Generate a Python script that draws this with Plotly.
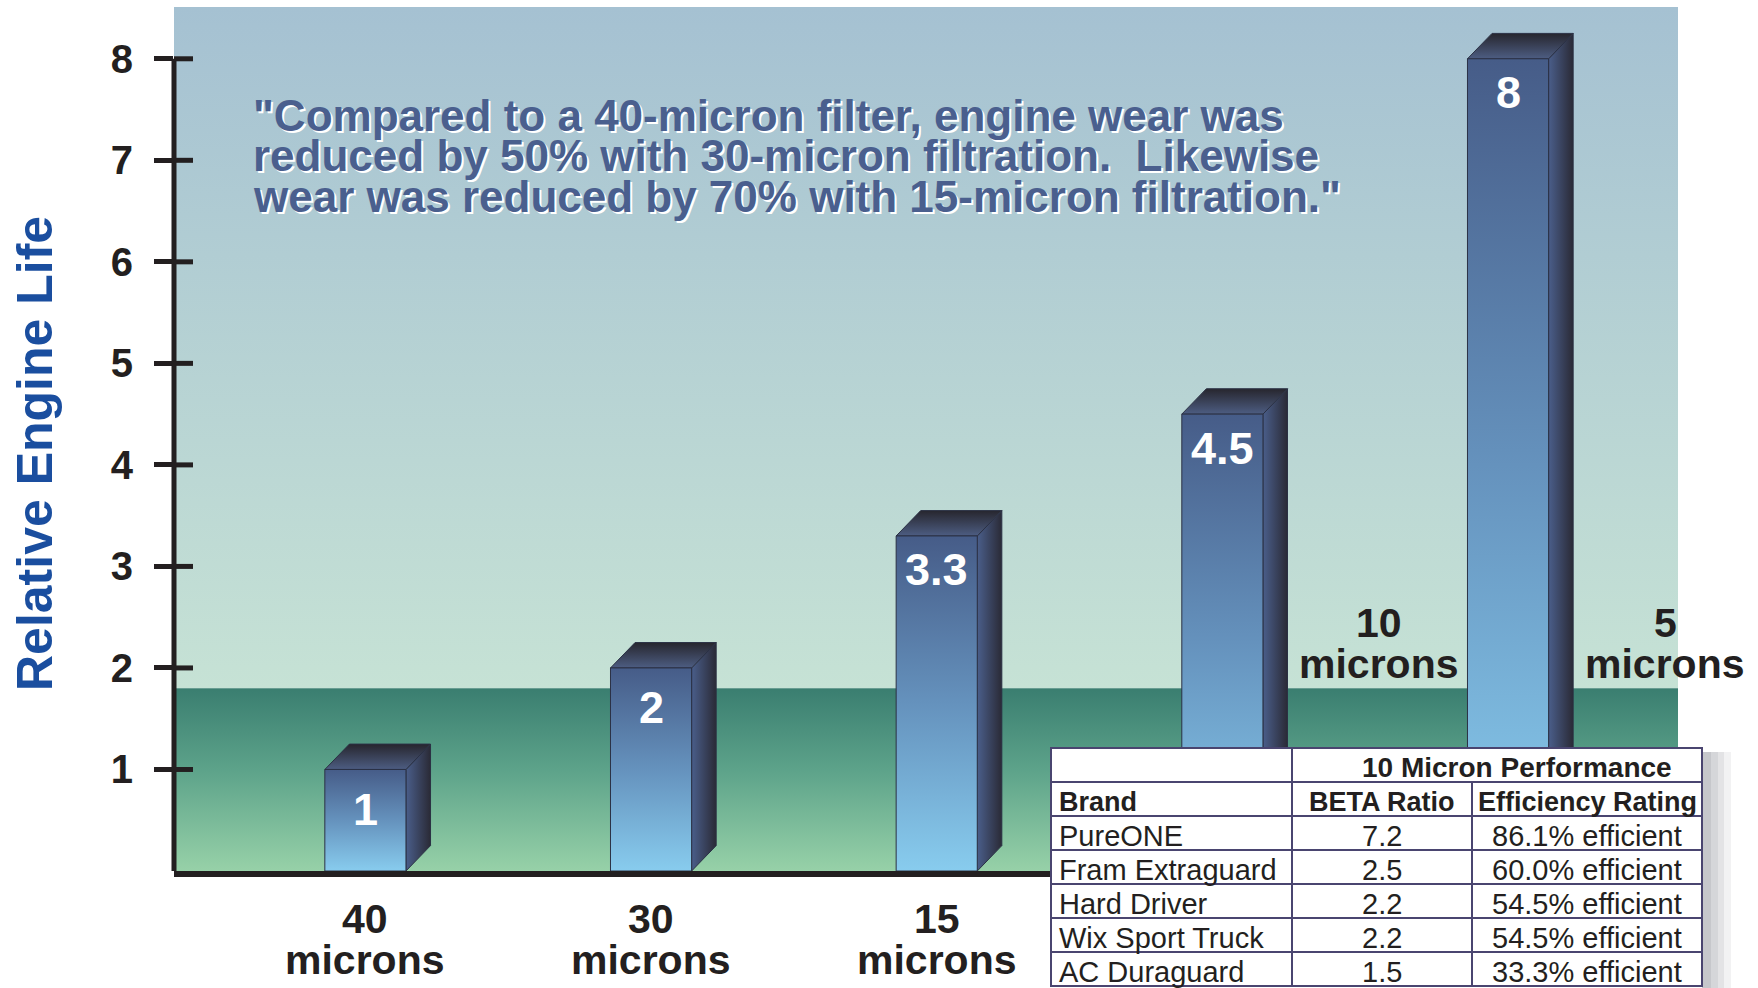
import plotly.graph_objects as go

# ---------------- data ----------------
categories = ["40", "30", "15", "10", "5"]
unit_label = "microns"
engine_life = [1, 2, 3.3, 4.5, 8]
value_labels = ["1", "2", "3.3", "4.5", "8"]
y_ticks = [1, 2, 3, 4, 5, 6, 7, 8]
y_title = "Relative Engine Life"

quote_lines = [
    '"Compared to a 40-micron filter, engine wear was',
    'reduced by 50% with 30-micron filtration. \u00a0Likewise',
    'wear was reduced by 70% with 15-micron filtration."',
]

table_title = "10 Micron Performance"
table_columns = ["Brand", "BETA Ratio", "Efficiency Rating"]
brands = ["PureONE", "Fram Extraguard", "Hard Driver", "Wix Sport Truck", "AC Duraguard"]
beta_ratios = ["7.2", "2.5", "2.2", "2.2", "1.5"]
efficiency = ["86.1% efficient", "60.0% efficient", "54.5% efficient",
              "54.5% efficient", "33.3% efficient"]

# ---------------- layout / style constants ----------------
W, H = 1758, 988
PL, PR, PT, PB = 174, 1678, 7, 871          # plot area in px
X_RANGE = [-0.670, 4.595]
Y_RANGE = [0, 8.51]
BAND_TOP = 1.8
HALF_W = 0.142
DEPTH_X = 0.086
DEPTH_Y = 0.25
FONT = "Liberation Sans, Arial, sans-serif"
INK = "#231f20"
EDGE = "#2b3145"

front_cs = [[0, "#88ccee"], [0.5, "#6592bd"], [1, "#465c88"]]
side_cs = [[0, "#4a5e8a"], [1, "#2a2a36"]]
top_cs = [[0, "#4d5d82"], [1, "#27262e"]]
sky_cs = [[0, "#c6e2d5"], [1, "#a5c1d2"]]
band_cs = [[0, "#97d1a8"], [0.55, "#5da38a"], [1, "#3a7e70"]]


def px_x(p):
    return p / W


def px_y(p):
    return 1 - p / H


fig = go.Figure()

# background gradients
xr0, xr1 = X_RANGE
fig.add_trace(go.Scatter(
    x=[xr0, xr1, xr1, xr0, xr0], y=[BAND_TOP, BAND_TOP, Y_RANGE[1], Y_RANGE[1], BAND_TOP],
    mode="lines", line=dict(width=0), fill="toself",
    fillgradient=dict(type="vertical", colorscale=sky_cs, start=BAND_TOP, stop=Y_RANGE[1]),
    hoverinfo="skip", showlegend=False))
fig.add_trace(go.Scatter(
    x=[xr0, xr1, xr1, xr0, xr0], y=[0, 0, BAND_TOP, BAND_TOP, 0],
    mode="lines", line=dict(width=0), fill="toself",
    fillgradient=dict(type="vertical", colorscale=band_cs, start=0, stop=BAND_TOP),
    hoverinfo="skip", showlegend=False))

# 3D bars
for i, v in enumerate(engine_life):
    x0, x1 = i - HALF_W, i + HALF_W
    fig.add_trace(go.Scatter(
        x=[x1, x1 + DEPTH_X, x1 + DEPTH_X, x1, x1], y=[0, DEPTH_Y, v + DEPTH_Y, v, 0],
        mode="lines", line=dict(color=EDGE, width=1), fill="toself",
        fillgradient=dict(type="horizontal", colorscale=side_cs, start=x1, stop=x1 + DEPTH_X),
        hoverinfo="skip", showlegend=False))
    fig.add_trace(go.Scatter(
        x=[x0, x1, x1 + DEPTH_X, x0 + DEPTH_X, x0], y=[v, v, v + DEPTH_Y, v + DEPTH_Y, v],
        mode="lines", line=dict(color=EDGE, width=1), fill="toself",
        fillgradient=dict(type="vertical", colorscale=top_cs, start=v, stop=v + DEPTH_Y),
        hoverinfo="skip", showlegend=False))
    fig.add_trace(go.Scatter(
        x=[x0, x1, x1, x0, x0], y=[0, 0, v, v, 0],
        mode="lines", line=dict(color=EDGE, width=1), fill="toself",
        fillgradient=dict(type="vertical", colorscale=front_cs, start=0, stop=v),
        hoverinfo="skip", showlegend=False))

annotations = []
for i, (v, lab) in enumerate(zip(engine_life, value_labels)):
    shift = -34 if v >= 3 else -40
    annotations.append(dict(x=i, y=v, xref="x", yref="y", text=f"<b>{lab}</b>",
                            showarrow=False, yanchor="middle", yshift=shift,
                            font=dict(family=FONT, size=45, color="white")))
for i, c in enumerate(categories):
    if i < 3:
        xi, s_num, s_unit = i, -48, -89
    else:
        xi, s_num, s_unit = i + 0.55, 248, 207
    annotations.append(dict(x=xi, y=0, xref="x", yref="y", text=f"<b>{c}</b>",
                            showarrow=False, yanchor="middle", yshift=s_num,
                            font=dict(family=FONT, size=41, color=INK)))
    annotations.append(dict(x=xi, y=0, xref="x", yref="y", text=f"<b>{unit_label}</b>",
                            showarrow=False, yanchor="middle", yshift=s_unit,
                            font=dict(family=FONT, size=41, color=INK)))
for k, line in enumerate(quote_lines):
    annotations.append(dict(x=px_x(251), y=px_y(115.5 + 40.4 * k), xref="paper", yref="paper",
                            text=f"<b>{line}</b>", showarrow=False,
                            xanchor="left", yanchor="middle",
                            font=dict(family=FONT, size=44, color="#4a5f8e",
                                      shadow="2px 2px 0px #ffffff")))
annotations.append(dict(x=px_x(35), y=px_y(454), xref="paper", yref="paper",
                        text=f"<b>{y_title}</b>", textangle=-90, showarrow=False,
                        xanchor="center", yanchor="middle",
                        font=dict(family=FONT, size=50, color="#1a4e9f")))

shapes = []
shapes.append(dict(type="line", xref="x domain", yref="y", x0=0, x1=0,
                   y0=0, y1=max(y_ticks), line=dict(color=INK, width=5), layer="above"))
for t in y_ticks:
    shapes.append(dict(type="line", xref="x domain", yref="y", x0=0, x1=19 / (PR - PL),
                       y0=t, y1=t, line=dict(color=INK, width=5), layer="above"))

# ---------------- table (drawn with shapes + text) ----------------
COL_EDGES = [1051, 1292, 1472, 1702]
TY0, TROW = 748, 34
n_rows = 2 + len(brands)
TY1 = TY0 + n_rows * TROW
tline = dict(color="#4a4570", width=2)
tfont_head = dict(family=FONT, size=27, color=INK)
tfont_cell = dict(family=FONT, size=29, color=INK)
TX0, TX1 = COL_EDGES[0], COL_EDGES[-1]

# drop shadow
for x_a, x_b, col in [(0, 9, "#c6c7cb"), (9, 16, "#d5d6d9"), (16, 22, "#e3e3e5"), (22, 29, "#f2f2f3")]:
    shapes.append(dict(type="rect", xref="paper", yref="paper",
                       x0=px_x(TX1 + x_a), x1=px_x(TX1 + x_b), y0=0, y1=px_y(TY0 + 4),
                       line=dict(width=0), fillcolor=col, layer="above"))
# body
shapes.append(dict(type="rect", xref="paper", yref="paper",
                   x0=px_x(TX0), x1=px_x(TX1), y0=px_y(TY1), y1=px_y(TY0),
                   line=tline, fillcolor="white", layer="above"))
for r in range(1, n_rows):
    yy = TY0 + r * TROW
    shapes.append(dict(type="line", xref="paper", yref="paper",
                       x0=px_x(TX0), x1=px_x(TX1), y0=px_y(yy), y1=px_y(yy),
                       line=tline, layer="above"))
shapes.append(dict(type="line", xref="paper", yref="paper",
                   x0=px_x(COL_EDGES[1]), x1=px_x(COL_EDGES[1]), y0=px_y(TY0), y1=px_y(TY1),
                   line=tline, layer="above"))
shapes.append(dict(type="line", xref="paper", yref="paper",
                   x0=px_x(COL_EDGES[2]), x1=px_x(COL_EDGES[2]), y0=px_y(TY0 + TROW), y1=px_y(TY1),
                   line=tline, layer="above"))


def cell_text(text, col, row, font, align):
    yc = TY0 + (row + 0.5) * TROW + 3
    if align == "left":
        xx, anchor = COL_EDGES[col] + 6, "left"
    else:
        xx, anchor = (COL_EDGES[col] + COL_EDGES[col + 1]) / 2, "center"
    return dict(x=px_x(xx), y=px_y(yc), xref="paper", yref="paper", text=text,
                showarrow=False, xanchor=anchor, yanchor="middle", font=font)


annotations.append(dict(x=px_x((COL_EDGES[1] + COL_EDGES[3]) / 2 + 20), y=px_y(TY0 + 0.5 * TROW + 2),
                        xref="paper", yref="paper", text=f"<b>{table_title}</b>",
                        showarrow=False, xanchor="center", yanchor="middle",
                        font=dict(family=FONT, size=28, color=INK)))
aligns = ["left", "center", "center"]
for c, head in enumerate(table_columns):
    annotations.append(cell_text(f"<b>{head}</b>", c, 1, tfont_head, aligns[c]))
for r, row_vals in enumerate(zip(brands, beta_ratios, efficiency)):
    for c, val in enumerate(row_vals):
        annotations.append(cell_text(val, c, r + 2, tfont_cell, aligns[c]))

fig.update_layout(
    width=W, height=H,
    margin=dict(l=0, r=0, t=0, b=0),
    paper_bgcolor="white", plot_bgcolor="white",
    showlegend=False,
    xaxis=dict(domain=[PL / W, PR / W], range=X_RANGE, showgrid=False, zeroline=False,
               showticklabels=False, ticks="", showline=True, linewidth=6, linecolor=INK,
               fixedrange=True),
    yaxis=dict(domain=[1 - PB / H, 1 - PT / H], range=Y_RANGE, showgrid=False, zeroline=False,
               showline=False, tickvals=y_ticks, ticktext=[str(t) for t in y_ticks],
               ticks="outside", ticklen=19, tickwidth=5, tickcolor=INK,
               ticklabelstandoff=13,
               tickfont=dict(family=FONT, size=40, color=INK, weight="bold"),
               fixedrange=True),
    annotations=annotations,
    shapes=shapes,
)

fig.write_html("out.html", config={"displayModeBar": False},
               post_script="document.body.style.margin='0';document.body.style.overflow='hidden';")
